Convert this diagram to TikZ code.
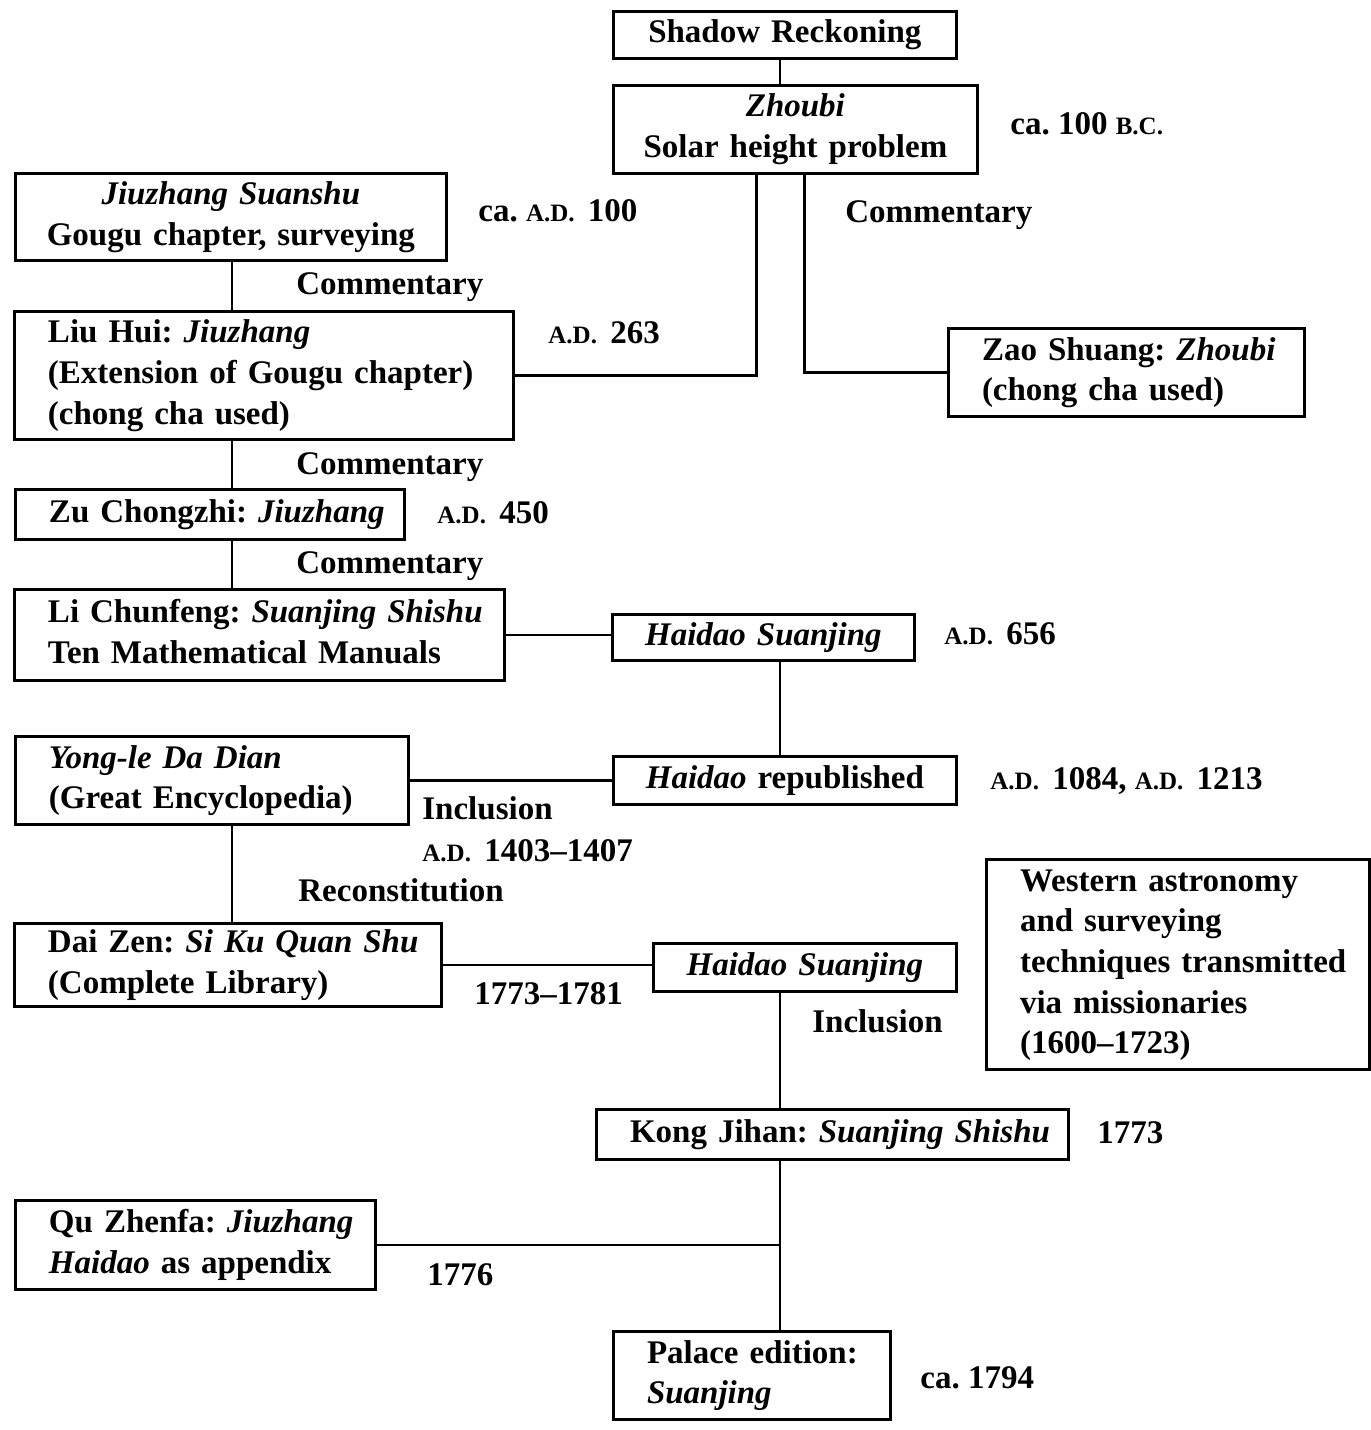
\documentclass[tikz,border=0pt]{standalone}
\usepackage{fontspec}
\setmainfont{Liberation Serif}
\newcommand\scap[1]{{\fontsize{12.5pt}{13pt}\selectfont #1}}
\newcommand\ad{\scap{A.D.}\kern2.5pt}
\newcommand\bcera{\scap{B.C.}}
\begin{document}
\begin{tikzpicture}[x=0.5pt,y=-0.5pt,
  every node/.style={font=\fontsize{16.5pt}{20.3pt}\selectfont\bfseries\frenchspacing},
  frame/.style={draw, line width=1.4pt, inner xsep=0pt, inner ysep=0pt, anchor=north west},
  cbx/.style={frame, align=center},
  lbx/.style={frame, align=left},
  lbl/.style={anchor=base west, inner sep=0pt},
  link/.style={line width=1.4pt}]
\useasboundingbox (0,0) rectangle (1371,1430);
% box helpers: name, left, top, right, bottom, text
\newcommand\cbox[6]{%
  \pgfmathsetmacro\bw{(#4-#2)/2}\pgfmathsetmacro\bh{(#5-#3)/2}%
  \node[cbx, minimum width=\bw pt, minimum height=\bh pt, text width=\bw pt] (#1) at (#2,#3) {#6};}
\newcommand\lbox[6]{%
  \pgfmathsetmacro\bw{(#4-#2)/2}\pgfmathsetmacro\bh{(#5-#3)/2}%
  \node[lbx, minimum width=\bw pt, minimum height=\bh pt, text width=\bw pt] (#1) at (#2,#3)
    {\hspace*{16.8pt}\begin{tabular}{@{}l@{}}#6\end{tabular}};}

% columns of the vertical links
\coordinate (spine) at (232,0);
\coordinate (mid) at (780,0);

\cbox{shadow}{612}{10}{955}{57}{Shadow Reckoning}
\cbox{zhoubi}{612}{84}{976}{172}{\textit{Zhoubi}\\ Solar height problem}
\cbox{jiuzhang}{14}{172}{445}{259}{\textit{Jiuzhang Suanshu}\\ Gougu chapter, surveying}
\lbox{liuhui}{13}{310}{512}{438}{Liu Hui: \textit{Jiuzhang}\\ (Extension of Gougu chapter)\\ (chong cha used)}
\lbox{zao}{947}{327}{1303}{415}{Zao Shuang: \textit{Zhoubi}\\ (chong cha used)}
\lbox{zu}{14}{488}{403}{538}{Zu Chongzhi: \textit{Jiuzhang}}
\lbox{li}{13}{588}{503}{679}{Li Chunfeng: \textit{Suanjing Shishu}\\ Ten Mathematical Manuals}
\cbox{haidaoa}{611}{613}{913}{659}{\textit{Haidao Suanjing}}
\lbox{yongle}{14}{735}{407}{823}{\textit{Yong-le Da Dian}\\ (Great Encyclopedia)}
\cbox{repub}{612}{755}{955}{803}{\textit{Haidao} republished}
\lbox{daizen}{13}{922}{440}{1005}{Dai Zen: \textit{Si Ku Quan Shu}\\ (Complete Library)}
\cbox{haidaob}{652}{942}{955}{990}{\textit{Haidao Suanjing}}
\lbox{western}{985}{858}{1368}{1068}{Western astronomy\\ and surveying\\ techniques transmitted\\ via missionaries\\ (1600--1723)}
\lbox{kong}{595}{1108}{1067}{1158}{Kong Jihan: \textit{Suanjing Shishu}}
\lbox{qu}{14}{1199}{374}{1288}{Qu Zhenfa: \textit{Jiuzhang}\\ \textit{Haidao} as appendix}
\lbox{palace}{612}{1330}{889}{1418}{Palace edition:\\ \textit{Suanjing}}

% dates and relations
\node[lbl] (d1) at (1010,134) {ca. 100 \bcera};
\node[lbl] (d2) at (478,221) {ca. \ad{} 100};
\node[lbl] (c1) at (845,222) {Commentary};
\node[lbl] (c2) at (296,294) {Commentary};
\node[lbl] (d3) at (548,343) {\ad{} 263};
\node[lbl] (c3) at (296,474) {Commentary};
\node[lbl] (d4) at (437,523) {\ad{} 450};
\node[lbl] (c4) at (296,573) {Commentary};
\node[lbl] (d5) at (944,644) {\ad{} 656};
\node[lbl] (d6) at (990,789) {\ad{} 1084, \ad{} 1213};
\node[lbl] (i1) at (422,819) {Inclusion};
\node[lbl] (d7) at (422,861) {\ad{} 1403--1407};
\node[lbl] (r1) at (298,901) {Reconstitution};
\node[lbl] (d8) at (474,1004) {1773--1781};
\node[lbl] (i2) at (812,1032) {Inclusion};
\node[lbl] (d9) at (1097,1143) {1773};
\node[lbl] (d10) at (427,1285) {1776};
\node[lbl] (d11) at (920,1388) {ca. 1794};

% connectors
\draw[link] (mid |- shadow.south) -- (mid |- zhoubi.north);
\draw[link] ([xshift=-19.5pt]zhoubi.south) |- (liuhui.east);
\draw[link] ([xshift=4.5pt]zhoubi.south) |- (zao.west);
\draw[link] (spine |- jiuzhang.south) -- (spine |- liuhui.north);
\draw[link] (spine |- liuhui.south) -- (spine |- zu.north);
\draw[link] (spine |- zu.south) -- (spine |- li.north);
\draw[link] (li.east) -- (li.east -| haidaoa.west);
\draw[link] (mid |- haidaoa.south) -- (mid |- repub.north);
\draw[link] (yongle.east) -- (yongle.east -| repub.west);
\draw[link] (spine |- yongle.south) -- (spine |- daizen.north);
\draw[link] (daizen.east) -- (daizen.east -| haidaob.west);
\draw[link] (mid |- haidaob.south) -- (mid |- kong.north);
\draw[link] (mid |- kong.south) -- (mid |- palace.north);
\draw[link] (qu.east) -- (qu.east -| mid);
\end{tikzpicture}
\end{document}
